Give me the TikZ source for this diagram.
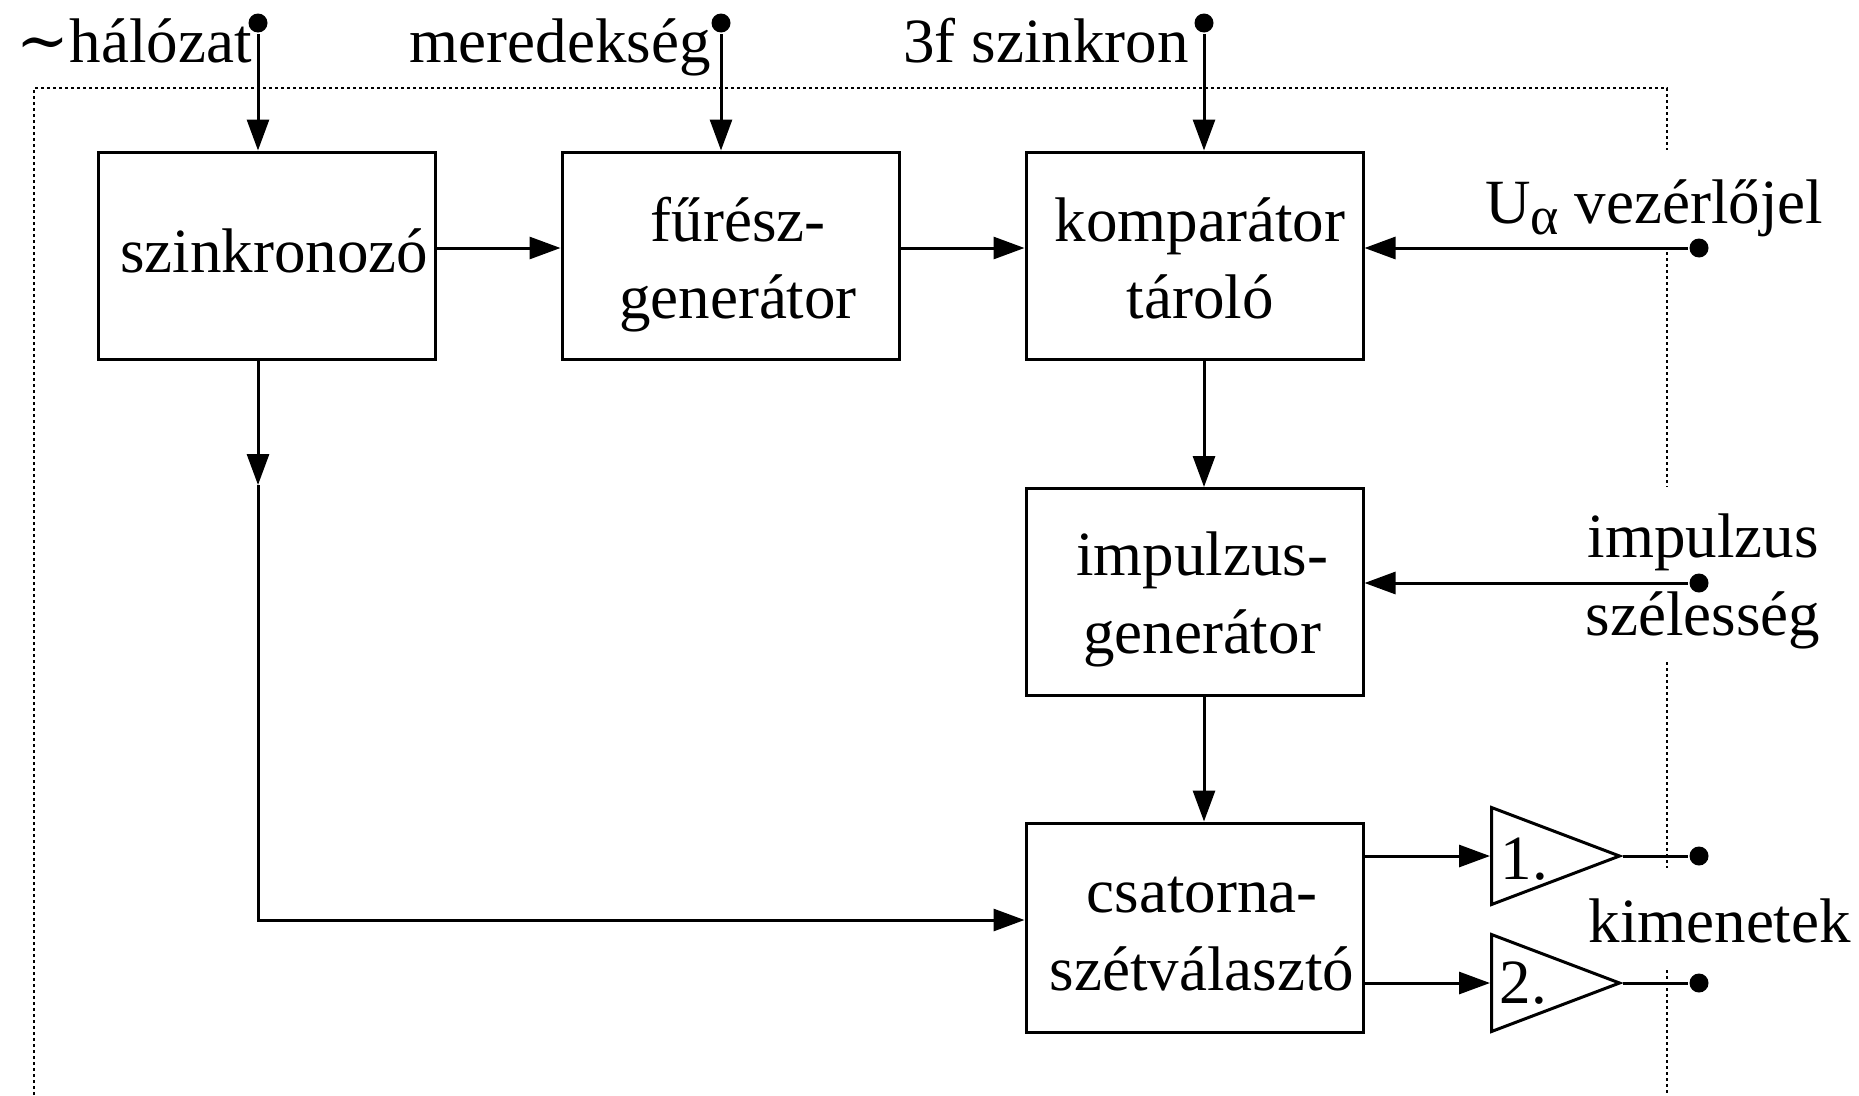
\documentclass[tikz,border=0pt]{standalone}
\usepackage{fontspec}
\setmainfont{Liberation Serif}
\newfontfamily\symfont{DejaVu Serif}
\usetikzlibrary{arrows.meta,shapes.geometric,calc}

\begin{document}
\begin{tikzpicture}[x=1pt,y=-1pt,
  line width=3pt,
  blk/.style={draw, rectangle, inner sep=0pt, minimum width=337pt, minimum height=207pt},
  txt/.style={anchor=base, inner sep=0pt, font=\fontsize{63}{75}\selectfont},
  arr/.style={-{Triangle[length=31pt,width=22pt]}},
  term/.style={circle, fill, inner sep=0pt, minimum size=19pt},
  frame/.style={line width=2.5pt, dash pattern=on 3pt off 3pt},
  amp/.style={draw, isosceles triangle, isosceles triangle stretches,
    shape border rotate=0, inner sep=0pt,
    minimum width=97pt, minimum height=128pt, anchor=west}
]
\useasboundingbox (0,0) rectangle (1859,1095);

% dotted enclosure
\draw[frame] (34,1095) -- (34,88) -- (1667,88) -- (1667,150);
\draw[frame] (1667,252) -- (1667,487);
\draw[frame] (1667,662) -- (1667,868);
\draw[frame] (1667,970) -- (1667,1095);

% blocks
\node[blk] (szink)  at (266.5,255.5) {};
\node[blk] (furesz) at (730.5,255.5) {};
\node[blk] (komp)   at (1194.5,255.5) {};
\node[blk] (imp)    at (1194.5,592) {};
\node[blk, minimum height=209pt] (csat) at (1194.5,927.5) {};

\node[txt] (szink-t)   at (274,272)  {szinkronozó};
\node[txt] (furesz-t1) at (738,241)  {fűrész-};
\node[txt] (furesz-t2) at (738,318)  {generátor};
\node[txt] (komp-t1)   at (1200,241) {komparátor};
\node[txt] (komp-t2)   at (1200,318) {tároló};
\node[txt] (imp-t1)    at (1202,575) {impulzus-};
\node[txt] (imp-t2)    at (1202,653) {generátor};
\node[txt] (csat-t1)   at (1202,912) {csatorna-};
\node[txt] (csat-t2)   at (1202,990) {szétválasztó};

% output amplifiers
\node[amp] (amp1) at (1490,856) {};
\node[amp] (amp2) at (1490,983) {};
\node[txt, anchor=base west] (amp1-t) at (1499,879)  {1.};
\node[txt, anchor=base west] (amp2-t) at (1498,1003) {2.};

% terminals
\node[term] (halo)   at (258,23) {};
\node[term] (mered)  at (721,23) {};
\node[term] (szinkr) at (1204,23) {};
\node[term] (ualpha) at (1699,248) {};
\node[term] (iszel)  at (1699,583) {};
\node[term] (ki1)    at (1699,856) {};
\node[term] (ki2)    at (1699,983) {};

% terminal labels
\node[txt, anchor=base east] (halo-l)   at (253,62)  {{\symfont ∼}hálózat};
\node[txt, anchor=base east] (mered-l)  at (712,62)  {meredekség};
\node[txt, anchor=base east] (szinkr-l) at (1190,62) {3f szinkron};
\node[txt] (ualpha-l) at (1654,223)
  {U\raisebox{-11pt}{\fontsize{54}{54}\selectfont α} vezérlőjel};
\node[txt] (iszel-l1) at (1703,557) {impulzus};
\node[txt] (iszel-l2) at (1703,635) {szélesség};
\node[txt, anchor=base west] (ki-l) at (1587,942) {kimenetek};

% connections
\coordinate (r1) at (0,248);
\coordinate (mid) at (258,485);
\coordinate (corner) at (258,920);

\draw[arr] (halo) -- (halo |- szink.north);
\draw[arr] (mered) -- (mered |- furesz.north);
\draw[arr] (szinkr) -- (szinkr |- komp.north);
\draw[arr] (szink.east |- r1) -- (furesz.west |- r1);
\draw[arr] (furesz.east |- r1) -- (komp.west |- r1);
\draw[arr] (ualpha) -- (komp.east |- ualpha);
\draw[arr] (szinkr |- komp.south) -- (szinkr |- imp.north);
\draw[arr] (szinkr |- imp.south) -- (szinkr |- csat.north);
\draw[arr] (iszel) -- (imp.east |- iszel);
\draw[arr] (halo |- szink.south) -- (mid);
\draw[arr] (mid) -- (corner) -- (csat.west |- corner);
\draw[arr] (csat.east |- amp1.west) -- (amp1.west);
\draw[arr] (csat.east |- amp2.west) -- (amp2.west);
\draw (amp1.apex) -- (ki1);
\draw (amp2.apex) -- (ki2);
\end{tikzpicture}
\end{document}
